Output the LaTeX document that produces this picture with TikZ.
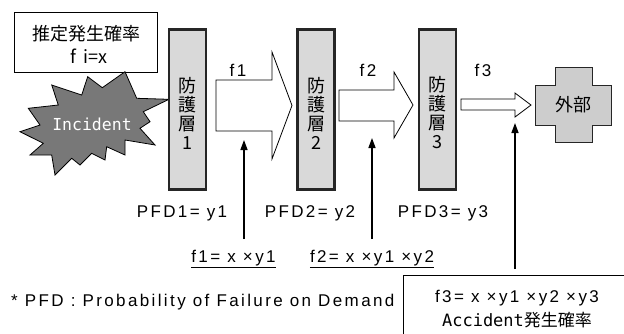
\documentclass[tikz,border=0pt]{standalone}
\usepackage{fontspec}
\setmainfont{Liberation Sans}[LetterSpace=14]
\newfontfamily\jpfont{Noto Sans CJK JP}
\newfontfamily\monofont{DejaVu Sans Mono}
\usetikzlibrary{arrows.meta}

\definecolor{layerfill}{HTML}{D9D9D9}
\definecolor{crossfill}{HTML}{CDCDCD}
\definecolor{burstfill}{HTML}{787878}
\definecolor{edgecol}{HTML}{262626}

\begin{document}
\begin{tikzpicture}[x=1pt,y=-1pt,
  txt/.style={font=\fontsize{17}{19}\selectfont, inner sep=0pt},
  jp/.style={font=\fontsize{18}{19}\jpfont, inner sep=0pt, align=center},
  layer/.style={draw=edgecol, line width=2.5pt, fill=layerfill, inner sep=0pt,
                minimum width=37pt, minimum height=160pt},
  flow/.style={draw=black, line width=0.8pt, fill=white, line join=miter},
  up/.style={line width=1.4pt, -{Triangle[length=10pt,width=7pt]}},
  thinbox/.style={draw=black, line width=0.8pt}
]
\useasboundingbox (0,0) rectangle (624,333);

% estimated frequency box
\node[thinbox, minimum width=143pt, minimum height=60pt, inner sep=0pt] (est) at (86,42.5) {};
\node[jp] (estA) at (86,34) {推定発生確率};
\node[jp] (estB) at (89,56) {f\hspace{7pt}i=x};

% incident starburst
\draw[fill=burstfill, line width=0.8pt, line join=miter]
  (87.7,76.7) -- (102.3,87.7) -- (125,71.7) -- (136.7,98.3) -- (169,99.3)
  -- (143.3,111.7) -- (150,121.7) -- (140,128.3) -- (155,145) -- (125,140)
  -- (125,155) -- (106.7,146.7) -- (105,160) -- (91.7,153.3) -- (80,165)
  -- (71.7,158.3) -- (55,175) -- (51.7,155) -- (30,155) -- (43.3,143.3)
  -- (20,131.7) -- (40,125) -- (28.3,108.3) -- (58.3,105) -- (51.7,85)
  -- (81.7,95) -- cycle;
\node[font=\fontsize{16.5}{19}\monofont, text=white, inner sep=0pt] (inc) at (92,124) {Incident};

% protection layers
\node[layer] (L1) at (187.5,109.5) {};
\node[layer] (L2) at (316,109.5) {};
\node[layer] (L3) at (437.5,109.5) {};
\node[jp] (L1t) at (187.5,113) {防\\護\\層\\1};
\node[jp] (L2t) at (316,113) {防\\護\\層\\2};
\node[jp] (L3t) at (437.5,113) {防\\護\\層\\3};

% block arrows between layers
\draw[flow] (216,80) -- (272,80) -- (272,52) -- (292,105.5) -- (272,159) -- (272,131) -- (216,131) -- cycle;
\draw[flow] (339,90) -- (394,90) -- (394,72) -- (413,105) -- (394,138) -- (394,121) -- (339,121) -- cycle;
\draw[flow] (461,99) -- (515,99) -- (515,93) -- (531,105) -- (515,117) -- (515,110) -- (461,110) -- cycle;
\node[txt] (f1) at (238,70) {f1};
\node[txt] (f2) at (368,70) {f2};
\node[txt] (f3) at (483,70) {f3};

% outside
\draw[fill=crossfill, draw=edgecol, line width=0.8pt]
  (555,67) -- (592,67) -- (592,85) -- (611,85) -- (611,125) -- (592,125)
  -- (592,142) -- (555,142) -- (555,125) -- (535,125) -- (535,85) -- (555,85) -- cycle;
\node[jp] (out) at (573,105) {外部};

% failure probabilities
\node[txt] (pfd1) at (182,213) {PFD1= y1};
\node[txt] (pfd2) at (310,213) {PFD2= y2};
\node[txt] (pfd3) at (443,213) {PFD3= y3};

% resulting frequencies
\node[txt] (r1) at (233.5,258) {f1= x ×y1};
\node[txt] (r2) at (372,258) {f2= x ×y1 ×y2};
\draw[line width=0.8pt] (r1.south west) ++(0,1.5) -- ([yshift=-1.5pt]r1.south east);
\draw[line width=0.8pt] (r2.south west) ++(0,1.5) -- ([yshift=-1.5pt]r2.south east);

% arrows pointing to the flows
\coordinate (b1) at (244,239);
\coordinate (t1) at (244,140);
\coordinate (b2) at (372,239);
\coordinate (t2) at (372,138);
\coordinate (b3) at (515,269);
\coordinate (t3) at (515,123);
\draw[up] (b1) -- (t1);
\draw[up] (b2) -- (t2);
\draw[up] (b3) -- (t3);

% footnote
\node[txt, anchor=west] (note) at (11,302) {* PFD : Probability of Failure on Demand};

% accident frequency box
\draw[line width=0.8pt] (403,340) -- (403,275) -- (630,275);
\node[txt] (acc1) at (517,298) {f3= x ×y1 ×y2 ×y3};
\node[font=\fontsize{17}{19}\jpfont, inner sep=0pt] (acc2) at (517,320) {{\monofont Accident}発生確率};
\end{tikzpicture}
\end{document}
